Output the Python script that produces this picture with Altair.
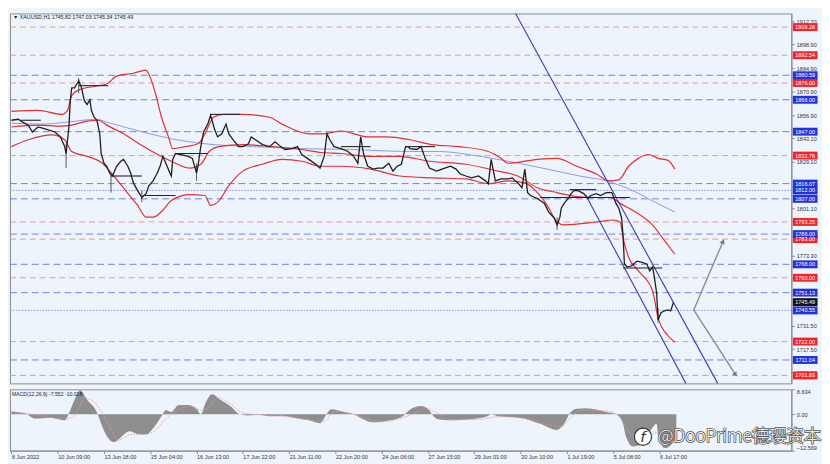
import json
import altair as alt
import pandas as pd

W, H1, H2 = 790, 374, 62
XDOM = [-1, 556]
YDOM = [1697.1, 1917.4]
MDOM = [-12.569, 8.634]

time_labels = ["8 Jun 2022", "10 Jun 09:00", "13 Jun 18:00", "15 Jun 04:00", "16 Jun 13:00",
               "17 Jun 22:00", "21 Jun 11:00", "22 Jun 20:00", "24 Jun 06:00", "27 Jun 15:00",
               "29 Jun 01:00", "30 Jun 10:00", "1 Jul 19:00", "5 Jul 08:00", "6 Jul 17:00"]
time_bars = [0, 33, 66, 99, 132, 165, 198, 231, 264, 297, 330, 363, 396, 429, 462]

price_ticks = [1912.70, 1898.90, 1884.90, 1870.90, 1856.90, 1843.10, 1829.10,
               1801.10, 1773.30, 1731.50, 1717.50, 1703.50]

price_bar = [0, 5, 8, 12, 15, 19, 24, 31, 35, 38,
             39, 41, 42, 43, 45, 48, 50, 52, 54, 56,
             57, 59, 61, 63, 64, 66, 68, 70, 72, 75,
             78, 80, 83, 85, 87, 90, 93, 96, 98, 101,
             104, 106, 108, 111, 113, 114, 115, 117, 121, 126,
             129, 132, 133, 135, 137, 140, 142, 145, 147, 150,
             153, 155, 158, 162, 165, 169, 171, 174, 179, 184,
             188, 192, 195, 200, 204, 207, 212, 217, 220, 223,
             225, 227, 230, 235, 240, 244, 247, 249, 251, 254,
             258, 261, 265, 269, 272, 275, 278, 281, 283, 284,
             289, 292, 295, 298, 303, 307, 313, 317, 320, 324,
             328, 333, 338, 340, 342, 345, 349, 354, 357, 361,
             364, 366, 368, 370, 375, 380, 383, 387, 389, 391,
             392, 394, 397, 399, 401, 404, 408, 411, 413, 417,
             420, 424, 428, 431, 433, 435, 436, 437, 439, 442,
             446, 449, 453, 455, 457, 458, 460, 461, 463, 465,
             468, 470, 472]
price_close = [1853.8, 1854.4, 1852.7, 1850.9, 1846.8, 1849.8, 1848.6, 1846.8, 1843.9, 1838.1,
               1834.0, 1849.8, 1865.5, 1873.1, 1873.1, 1877.2, 1873.1, 1865.5, 1863.2, 1866.1,
               1859.7, 1855.6, 1853.8, 1845.7, 1834.0, 1828.2, 1826.4, 1822.4, 1820.6, 1826.4,
               1829.4, 1830.5, 1826.4, 1822.4, 1816.5, 1811.9, 1807.8, 1810.1, 1814.8, 1817.7,
               1822.4, 1826.4, 1832.3, 1826.4, 1822.4, 1820.6, 1830.5, 1834.0, 1833.4, 1832.3,
               1831.1, 1822.4, 1826.4, 1838.1, 1846.8, 1851.5, 1856.8, 1848.0, 1843.9, 1845.7,
               1851.5, 1845.7, 1842.2, 1838.1, 1838.1, 1839.8, 1843.9, 1842.2, 1839.3, 1838.1,
               1841.0, 1838.1, 1836.4, 1836.9, 1838.1, 1833.4, 1830.5, 1827.6, 1825.3, 1832.3,
               1845.7, 1842.2, 1838.1, 1836.9, 1835.2, 1832.3, 1828.2, 1843.9, 1834.0, 1826.4,
               1824.7, 1825.3, 1825.3, 1828.2, 1823.5, 1826.4, 1827.6, 1838.1, 1838.1, 1836.9,
               1836.4, 1838.1, 1831.1, 1825.3, 1823.5, 1824.7, 1826.4, 1824.7, 1821.8, 1820.6,
               1819.5, 1820.6, 1817.7, 1816.0, 1830.5, 1817.7, 1818.9, 1818.9, 1819.5, 1816.5,
               1813.6, 1824.7, 1810.7, 1809.0, 1807.2, 1804.3, 1799.1, 1795.6, 1791.5, 1796.1,
               1801.4, 1804.3, 1807.2, 1810.1, 1811.9, 1811.9, 1810.1, 1807.2, 1809.0, 1810.1,
               1809.0, 1810.7, 1810.7, 1804.3, 1801.4, 1795.6, 1785.6, 1768.2, 1766.4, 1767.0,
               1769.9, 1769.3, 1768.2, 1764.1, 1766.4, 1762.3, 1750.7, 1734.9, 1739.0, 1740.2,
               1740.8, 1740.2, 1745.5]

wick_bar = [39, 48, 71, 93, 132, 389, 461]
wick_low = [1825.5, 1870.0, 1810.7, 1805.0, 1817.7, 1788.5, 1733.2]
wick_high = [1840.0, 1879.0, 1822.0, 1812.0, 1828.0, 1796.0, 1742.0]

upper_bar = [0, 19, 36, 40, 43, 48, 61, 68, 75, 87, 96, 98, 103, 107, 112, 115, 124, 133, 138, 144,
             151, 165, 184, 193, 212, 223, 235, 254, 268, 284, 300, 319, 340, 349, 354, 375, 389,
             403, 417, 426, 433, 440, 447, 454, 461, 468, 473]
upper_val = [1859.1, 1859.7, 1857.3, 1859.7, 1868.4, 1871.9, 1874.2, 1875.4, 1880.1, 1881.8,
             1883.6, 1881.2, 1869.0, 1855.6, 1843.9, 1836.9, 1838.1, 1839.8, 1845.7, 1855.6,
             1857.3, 1857.3, 1855.6, 1851.5, 1845.7, 1845.7, 1847.4, 1843.9, 1843.9, 1842.2,
             1839.3, 1838.1, 1835.2, 1831.1, 1828.2, 1830.5, 1831.1, 1826.4, 1821.8, 1817.7,
             1818.3, 1826.4, 1831.1, 1833.4, 1831.1, 1829.9, 1824.7]

mid_bar = [0, 19, 36, 43, 54, 62, 68, 80, 91, 103, 114, 127, 135, 141, 148, 165, 186, 207, 221, 235,
           256, 277, 298, 324, 347, 361, 375, 389, 403, 417, 427, 434, 445, 457, 466, 473]
mid_val = [1849.8, 1850.9, 1850.3, 1850.9, 1853.3, 1853.8, 1850.9, 1845.7, 1839.8, 1834.0,
           1829.4, 1825.3, 1827.6, 1835.2, 1838.1, 1839.3, 1838.1, 1836.4, 1834.6, 1834.0,
           1832.3, 1832.3, 1829.4, 1827.6, 1823.5, 1820.6, 1813.6, 1810.7, 1808.4, 1807.8,
           1807.8, 1804.3, 1799.1, 1791.5, 1781.6, 1774.0]

low_bar = [0, 12, 29, 38, 43, 54, 64, 73, 82, 90, 96, 101, 108, 114, 127, 138, 142, 147, 155, 165,
           179, 193, 207, 221, 235, 256, 277, 300, 324, 340, 354, 366, 375, 382, 389, 394, 417,
           429, 434, 436, 440, 447, 457, 461, 468, 473]
low_val = [1838.1, 1842.2, 1845.1, 1842.2, 1835.2, 1832.3, 1828.8, 1820.6, 1811.3, 1803.1,
           1796.1, 1796.1, 1800.2, 1806.0, 1809.5, 1809.0, 1803.1, 1804.9, 1814.8, 1823.5,
           1827.6, 1830.5, 1829.4, 1826.4, 1826.4, 1824.7, 1820.6, 1819.5, 1818.9, 1816.0,
           1817.7, 1816.5, 1810.7, 1803.1, 1793.2, 1791.5, 1793.2, 1794.4, 1793.2, 1783.9,
           1772.2, 1764.1, 1752.4, 1736.1, 1725.6, 1721.5]

ma_bar = [0, 21, 40, 61, 68, 91, 114, 138, 172, 207, 242, 284, 305, 326, 347, 382, 405, 424, 440, 459, 473]
ma_val = [1852.1, 1851.5, 1852.7, 1854.4, 1852.7, 1847.4, 1842.8, 1839.8, 1838.1, 1836.9, 1836.4,
          1835.2, 1835.2, 1833.4, 1830.5, 1824.7, 1820.6, 1817.7, 1813.0, 1804.9, 1799.1]

# horizontal levels
red_levels = [1909.28, 1892.54, 1876.00, 1832.76, 1793.25, 1783.00, 1760.00, 1722.00, 1701.83]
blue_levels = [1880.59, 1866.00, 1847.00, 1816.07, 1807.00, 1786.00, 1768.00, 1751.13, 1711.04]
dotted_levels = [1812.00, 1740.55]
last_price = 1745.49

# channel lines (id, bar, price)
chan_id = ["a", "a", "b", "b"]
chan_bar = [359.4, 503.5, 409.6, 480.8]
chan_price = [1917.4, 1697.1, 1809.0, 1697.1]

# projection arrows
arrow_id = ["up", "up", "down", "down"]
arrow_bar = [486.4, 507.3, 486.4, 516.2]
arrow_price = [1740.8, 1781.6, 1740.8, 1702.3]

# black horizontal markers
seg_id = [1, 1, 2, 2, 3, 3, 4, 4, 5, 5, 6, 6, 7, 7, 8, 8, 9, 9, 10, 10, 11, 11]
seg_bar = [7, 21, 48, 69, 71, 93, 94, 117, 117, 140, 142, 163, 235, 256, 281, 302, 377, 441, 398, 417, 436, 464]
seg_price = [1853.8, 1853.8, 1874.4, 1874.4, 1820.6, 1820.6, 1809.0, 1809.0, 1834.0, 1834.0,
             1857.3, 1857.3, 1838.1, 1838.1, 1838.1, 1838.1, 1807.8, 1807.8, 1812.5, 1812.5,
             1765.8, 1765.8]

macd_bar = [0, 10, 17, 28, 38, 41, 45, 49, 54, 61, 64, 68, 73, 78, 84, 90, 96, 101, 107, 110,
            114, 119, 126, 132, 135, 138, 143, 149, 156, 163, 168, 177, 184, 193, 202, 212, 220,
            225, 228, 237, 244, 249, 258, 270, 279, 284, 292, 298, 300, 305, 317, 331, 340, 342,
            347, 363, 377, 389, 394, 398, 403, 410, 424, 431, 436, 438, 443, 450, 456, 460, 461,
            466, 469, 472, 474]
macd_val = [1.0, 0.3, -1.5, -1.2, -2.1, 0.3, 5.0, 8.3, 5.0, 0.6, -3.3, -7.5, -9.6, -8.0, -5.9,
            -6.8, -7.0, -4.9, -0.7, 1.4, 0.8, 3.1, 3.2, 1.9, 0.0, 3.4, 6.9, 5.0, 2.9, 0.0, -0.4,
            -0.2, -0.7, -0.5, -1.25, -2.1, -3.1, 0.3, 1.7, 0.8, 0.0, -1.25, -2.8, -2.1, -0.7, 1.6,
            2.9, 1.4, -0.2, -1.8, -2.1, -1.5, -0.5, 0.0, -0.7, -1.25, -3.3, -5.4, -3.3, 0.3, 1.9,
            2.1, 0.8, 0.0, -3.3, -7.5, -11.1, -10.1, -5.4, -3.3, -7.5, -11.7, -11.1, -9.6, -7.6]
sig_bar = [0, 12, 26, 40, 47, 52, 57, 64, 71, 76, 85, 96, 103, 110, 117, 127, 135, 141, 147, 155,
           165, 179, 200, 214, 223, 230, 242, 253, 263, 277, 288, 295, 303, 312, 333, 347, 368,
           382, 392, 399, 406, 424, 434, 441, 448, 455, 462, 469, 474]
sig_val = [0.8, 0.2, -1.0, -1.6, 1.0, 5.5, 5.0, 1.0, -5.0, -9.0, -7.0, -6.8, -5.5, -1.5, 1.0,
           2.8, 1.5, 2.5, 5.8, 4.0, 0.5, -0.3, -1.0, -2.0, -2.5, 1.0, 0.3, -1.5, -2.6, -1.5, 0.5,
           2.3, 0.5, -1.8, -1.8, -0.8, -1.5, -3.5, -4.2, -1.0, 1.5, 1.2, -1.0, -6.5, -9.5, -7.5,
           -6.0, -9.0, -10.0]

header_text = "\u25bc XAUUSD,H1  1745.82 1747.03 1745.34 1745.49"
macd_text = "MACD(12,26,9) -7.552 -10.018"
watermark = "@DooPrime\u5fb7\u748e\u8d44\u672c"

FONT = "Liberation Sans"
FS = 5.6


def X():
    return alt.X("x:Q", scale=alt.Scale(domain=XDOM, nice=False, zero=False), axis=None)


def Y():
    return alt.Y("y:Q", scale=alt.Scale(domain=YDOM, nice=False, zero=False),
                 axis=alt.Axis(orient="right", values=price_ticks, format=".2f", title=None,
                               grid=False, tickSize=3, labelPadding=2, labelFontSize=FS,
                               labelColor="#333", labelFont=FONT, domainColor="#8c8c8c",
                               tickColor="#8c8c8c"))


def level_rule(levels, color, dash):
    df = pd.DataFrame({"y": levels})
    return alt.Chart(df).mark_rule(color=color, strokeDash=dash, strokeWidth=1).encode(
        y=Y(), x=alt.value(0), x2=alt.value(W))


def curve(xs, ys, color, width=1.2, interp="monotone"):
    df = pd.DataFrame({"x": xs, "y": ys})
    return alt.Chart(df).mark_line(color=color, strokeWidth=width, interpolate=interp).encode(x=X(), y=Y())


layers = [
    level_rule(red_levels, "#e59a9a", [6, 4]),
    level_rule(blue_levels, "#7480dc", [7, 4]),
    level_rule(dotted_levels, "#8a93dd", [1.5, 1.5]),
    curve(ma_bar, ma_val, "#8c9ae6", 1.0),
    curve(upper_bar, upper_val, "#e23030"),
    curve(mid_bar, mid_val, "#e23030"),
    curve(low_bar, low_val, "#e23030"),
]

chan_df = pd.DataFrame({"id": chan_id, "x": chan_bar, "y": chan_price})
layers.append(alt.Chart(chan_df).mark_line(color="#3a3ab8", strokeWidth=1.1).encode(
    x=X(), y=Y(), detail="id:N"))

arr_df = pd.DataFrame({"id": arrow_id, "x": arrow_bar, "y": arrow_price})
layers.append(alt.Chart(arr_df).mark_line(color="#8c8c8c", strokeWidth=1.4).encode(
    x=X(), y=Y(), detail="id:N"))
up_head = pd.DataFrame({"x": [arrow_bar[1]], "y": [arrow_price[1]]})
dn_head = pd.DataFrame({"x": [arrow_bar[3]], "y": [arrow_price[3]]})
layers.append(alt.Chart(up_head).mark_point(shape="triangle-up", filled=True, size=30, angle=23,
                                            color="#7a7a7a", opacity=1).encode(x=X(), y=Y()))
layers.append(alt.Chart(dn_head).mark_point(shape="triangle-up", filled=True, size=30, angle=147,
                                            color="#7a7a7a", opacity=1).encode(x=X(), y=Y()))

wick_df = pd.DataFrame({"x": wick_bar, "y": wick_low, "y2": wick_high})
layers.append(alt.Chart(wick_df).mark_rule(color="#555", strokeWidth=1).encode(
    x=X(), y=Y(), y2="y2:Q"))
layers.append(curve(price_bar, price_close, "#1e1e1e", 1.3, "linear"))

seg_df = pd.DataFrame({"id": seg_id, "x": seg_bar, "y": seg_price})
layers.append(alt.Chart(seg_df).mark_line(color="#222", strokeWidth=1.1).encode(
    x=X(), y=Y(), detail="id:N"))

# price boxes on the right scale
box_y = red_levels + blue_levels + dotted_levels + [last_price]
box_c = (["#f0262a"] * len(red_levels) + ["#2432d8"] * (len(blue_levels) + len(dotted_levels))
         + ["#111111"])
box_df = pd.DataFrame({"y": box_y, "c": box_c, "t": ["%.2f" % v for v in box_y]})
layers.append(alt.Chart(box_df).mark_tick(orient="horizontal", size=25, thickness=8, opacity=1).encode(
    x=alt.value(W + 14), y=Y(), color=alt.Color("c:N", scale=None)))
layers.append(alt.Chart(box_df).mark_text(color="white", fontSize=FS, font=FONT, align="center",
                                          baseline="middle").encode(
    x=alt.value(W + 14), y=Y(), text="t:N"))

head_df = pd.DataFrame({"t": [header_text]})
layers.append(alt.Chart(head_df).mark_text(fontSize=5.4, font=FONT, color="#222", align="left",
                                           baseline="top").encode(
    x=alt.value(3), y=alt.value(2), text="t:N"))

main = alt.layer(*layers).properties(width=W, height=H1)

# MACD panel
label_expr = "%s[round(datum.value/33)]" % json.dumps(time_labels)


def MX():
    return alt.X("x:Q", scale=alt.Scale(domain=XDOM, nice=False, zero=False),
                 axis=alt.Axis(values=time_bars, labelExpr=label_expr, labelAlign="left",
                               labelFontSize=FS, labelFont=FONT, labelColor="#333", tickSize=3,
                               grid=False, title=None, labelOverlap=False, labelFlush=False,
                               labelPadding=1, domainColor="#8c8c8c", tickColor="#8c8c8c"))


def MY():
    return alt.Y("y:Q", scale=alt.Scale(domain=MDOM, nice=False, zero=False),
                 axis=alt.Axis(orient="right", values=[MDOM[0], 0, MDOM[1]],
                               labelExpr="datum.value == 0 ? '0.00' : format(datum.value, '.3f')",
                               labelFlush=True, title=None, grid=False, tickSize=3, labelPadding=2,
                               labelFontSize=FS, labelFont=FONT, labelColor="#333",
                               domainColor="#8c8c8c", tickColor="#8c8c8c"))


macd_df = pd.DataFrame({"x": macd_bar, "y": macd_val})
sig_df = pd.DataFrame({"x": sig_bar, "y": sig_val})
m_area = alt.Chart(macd_df).mark_area(color="#8e8e8e", interpolate="monotone").encode(
    x=MX(), y=MY(), y2=alt.datum(0))
m_sig = alt.Chart(sig_df).mark_line(color="#e59a9a", strokeDash=[1.5, 1.5], strokeWidth=1,
                                    interpolate="monotone").encode(x=MX(), y=MY())
m_head = alt.Chart(pd.DataFrame({"t": [macd_text]})).mark_text(
    fontSize=5.2, font=FONT, color="#222", align="left", baseline="top").encode(
    x=alt.value(2), y=alt.value(3), text="t:N")
wm_df = pd.DataFrame({"t": [watermark]})
m_logo = alt.Chart(wm_df).mark_point(shape="circle", filled=True, fill="white", stroke="#333",
                                     strokeWidth=1.2, size=300, opacity=1).encode(
    x=alt.value(640), y=alt.value(48))
m_logo_f = alt.Chart(pd.DataFrame({"t": ["f"]})).mark_text(
    fontSize=15, font="DejaVu Sans", fontStyle="italic", color="#333", align="center",
    baseline="middle").encode(x=alt.value(640), y=alt.value(48), text="t:N")
# outline (dark, stroked) then white fill on top
m_wm_out = alt.Chart(wm_df).mark_text(fontSize=17.5, font="Noto Sans CJK SC", fontWeight=300,
                                      color="#555", stroke="#555", strokeWidth=1.6, align="left",
                                      baseline="middle").encode(
    x=alt.value(655), y=alt.value(48), text="t:N")
m_wm = alt.Chart(wm_df).mark_text(fontSize=17.5, font="Noto Sans CJK SC", fontWeight=300,
                                  color="#ffffff", align="left", baseline="middle").encode(
    x=alt.value(655), y=alt.value(48), text="t:N")

macd = alt.layer(m_area, m_sig, m_head, m_logo, m_logo_f, m_wm_out, m_wm).properties(width=W, height=H2)

chart = alt.vconcat(main, macd, spacing=2).properties(
    background="#eef4fb", padding=0
).configure_view(stroke="#8c8c8c", strokeWidth=1)

chart.save("out.html", embed_options={"renderer": "svg", "actions": False})
